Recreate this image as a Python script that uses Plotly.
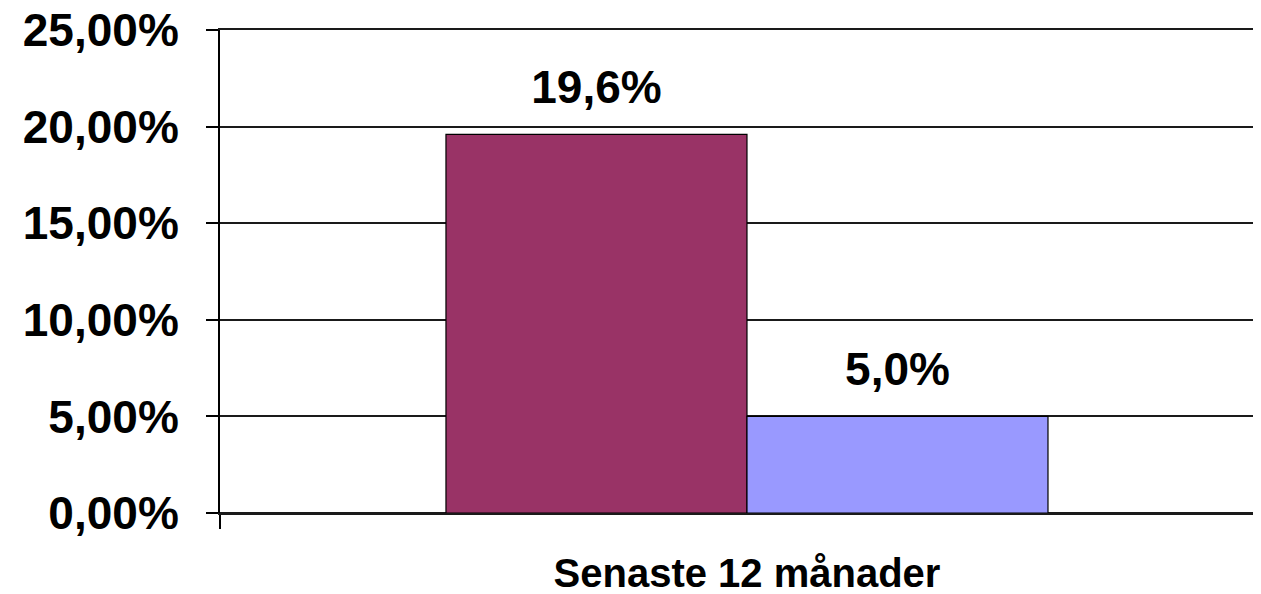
import plotly.graph_objects as go

categories = ["Senaste 12 månader"]
series_names = ["Serie 1", "Serie 2"]
series_values = [[19.6], [5.0]]
series_colors = ["#993366", "#9999FF"]
y_ticks = [0, 5, 10, 15, 20, 25]
y_tick_labels = [f"{v:.2f}%".replace(".", ",") for v in y_ticks]

FONT = "Arial, Liberation Sans, sans-serif"
BOLD = {"family": FONT, "color": "black", "weight": "bold"}

fig = go.Figure()
for i, (name, values, color) in enumerate(zip(series_names, series_values, series_colors)):
    fig.add_trace(
        go.Bar(
            x=categories,
            y=values,
            name=name,
            offsetgroup=str(i),
            marker={"color": color, "line": {"color": "black", "width": 1.2}},
            showlegend=False,
        )
    )
    # data label above each bar
    fig.add_trace(
        go.Scatter(
            x=categories,
            y=values,
            offsetgroup=str(i),
            mode="markers+text",
            marker={"size": 30, "color": "rgba(0,0,0,0)"},
            text=[f"{v:.1f}%".replace(".", ",") for v in values],
            textposition="top center",
            textfont={**BOLD, "size": 46},
            cliponaxis=False,
            hoverinfo="skip",
            showlegend=False,
        )
    )

fig.update_layout(
    width=1253,
    height=586,
    margin={"l": 212, "r": 0, "t": 22, "b": 81},
    paper_bgcolor="white",
    plot_bgcolor="white",
    barmode="group",
    bargap=0.4288,
    bargroupgap=0,
    scattermode="group",
    scattergap=0.4288,
    font={"family": FONT, "color": "black"},
)
fig.update_yaxes(
    range=[0, 25],
    automargin=False,
    tickvals=y_ticks,
    ticktext=y_tick_labels,
    tickfont={**BOLD, "size": 46},
    ticklabeloverflow="allow",
    ticks="outside",
    ticklen=12,
    tickwidth=2,
    tickcolor="black",
    ticklabelstandoff=18,
    showline=True,
    linecolor="black",
    linewidth=2,
    showgrid=True,
    gridcolor="#1a1a1a",
    gridwidth=2,
    zeroline=True,
    zerolinecolor="#1a1a1a",
    zerolinewidth=2,
)
fig.update_xaxes(
    range=[-0.5, 0.4877],
    automargin=False,
    tickson="boundaries",
    ticks="outside",
    ticklen=14,
    tickwidth=2,
    tickcolor="black",
    tickfont={**BOLD, "size": 40},
    ticklabeloverflow="allow",
    ticklabelstandoff=24,
    showline=True,
    mirror=True,
    linecolor="#1a1a1a",
    linewidth=2,
    showgrid=False,
)

fig.write_html("out.html")
